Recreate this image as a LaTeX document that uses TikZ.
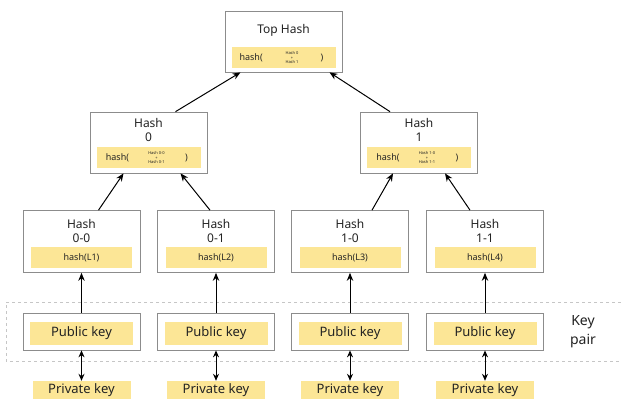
\documentclass[tikz,border=0pt]{standalone}
\usepackage{fontspec}
\setmainfont{Noto Sans}
\usetikzlibrary{arrows.meta,calc}
\definecolor{keyyellow}{RGB}{252,230,150}
\definecolor{boxgray}{RGB}{140,140,140}
\definecolor{ink}{RGB}{35,35,35}
\tikzset{
  hashbox/.style={draw=boxgray,line width=0.7pt,fill=white,minimum width=117pt,inner sep=0pt},
  bar/.style={fill=keyyellow,inner sep=0pt,minimum height=21pt},
  title/.style={font=\fontsize{12}{13.5}\selectfont,text=ink,align=center,inner sep=0pt},
  small/.style={font=\fontsize{9}{10}\selectfont,text=ink},
  tiny/.style={font=\fontsize{4}{4.6}\selectfont,text=ink,align=center,inner sep=0pt},
  keytext/.style={font=\fontsize{13}{14}\selectfont,text=ink},
  up/.style={line width=1pt,-{Stealth[length=8pt,width=6.5pt]}},
  both/.style={line width=1pt,{Stealth[length=7pt,width=6pt]}-{Stealth[length=7pt,width=6pt]}}
}
\begin{document}
\begin{tikzpicture}[x=1pt,y=-1pt]
\useasboundingbox (0,0) rectangle (621,405);
\fill[white] (0,0) rectangle (621,405);

% key pair band
\draw[gray!45,dashed,line width=0.6pt] (621,302) -- (6,302) -- (6,361) -- (621,361);
\node[keytext,align=center,font=\fontsize{14}{19}\selectfont] (kp) at (583,332) {Key\\pair};

% top hash
\node[hashbox,minimum height=61pt] (top) at (283.5,41.5) {};
\node[title] (toplbl) at (283.5,30) {Top Hash};
\node[bar,minimum width=104pt] (topbar) at (283.5,57.5) {};
\node[small,anchor=west] (toph) at (236,57.5) {hash(};
\node[tiny] (topin) at (292,57.5) {Hash 0\\+\\Hash 1};
\node[small] (topc) at (322,57.5) {)};

% second level
\foreach \n/\x/\lbl/\a/\b in {h0/148.5/0/0-0/0-1, h1/419/1/1-0/1-1}{
  \node[hashbox,minimum height=61pt] (\n) at (\x,142.5) {};
  \node[title] (\n lbl) at (\x,130) {Hash\\\lbl};
  \node[bar,minimum width=104pt] (\n bar) at (\x,157.5) {};
  \node[small,anchor=west] (\n h) at ($(\n bar.west)+(6,0)$) {hash(};
  \node[tiny] (\n in) at ($(\n bar.center)+(8,0)$) {Hash \a\\+\\Hash \b};
  \node[small] (\n c) at ($(\n bar.center)+(38,0)$) {)};
}

% leaves, public and private keys
\foreach \n/\x/\lbl/\L in {h00/81.5/0-0/1, h01/216/0-1/2, h10/350/1-0/3, h11/485/1-1/4}{
  \node[hashbox,minimum height=62pt] (\n) at (\x,241.5) {};
  \node[title] (\n lbl) at (\x,231) {Hash\\\lbl};
  \node[bar,minimum width=101pt] (\n bar) at (\x,257.5) {};
  \node[small] (\n h) at (\x,257.5) {hash(L\L)};
  \node[hashbox,minimum height=37pt] (\n pub) at (\x,331.5) {};
  \node[bar,minimum width=103pt,minimum height=23pt] (\n pbar) at (\x,333) {};
  \node[keytext] (\n ptxt) at (\x,333) {Public key};
  \node[bar,minimum width=98pt,minimum height=18pt] (\n priv) at (\x,390) {};
  \node[keytext] (\n vtxt) at (\x,390) {Private key};
  \draw[up] (\n pub.north) -- (\n.south);
  \draw[both] (\n pub.south) -- (\n priv.north);
}

% tree arrows
\draw[up] ($(h0.north)+(27,0)$) -- ($(top.south)+(-43,0)$);
\draw[up] ($(h1.north)+(-29,0)$) -- ($(top.south)+(46,0)$);
\draw[up] ($(h00.north)+(17,0)$) -- ($(h0.south)+(-25,0)$);
\draw[up] ($(h01.north)+(-6,0)$) -- ($(h0.south)+(32,0)$);
\draw[up] ($(h10.north)+(22,0)$) -- ($(h1.south)+(-26,0)$);
\draw[up] ($(h11.north)+(-15,0)$) -- ($(h1.south)+(26,0)$);
\end{tikzpicture}
\end{document}
